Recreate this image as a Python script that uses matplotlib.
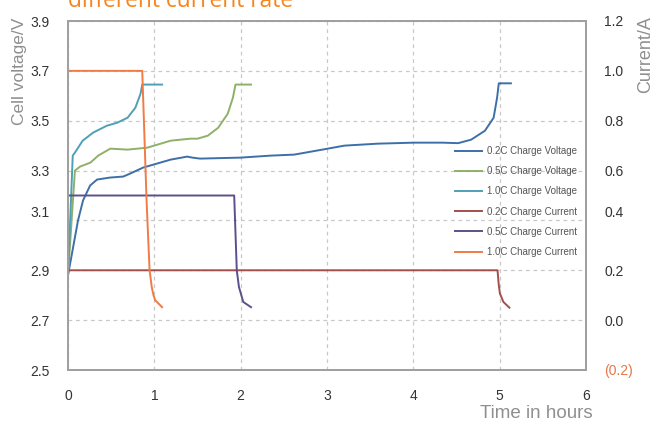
import numpy as np
import matplotlib.pyplot as plt
from matplotlib.transforms import ScaledTranslation

plt.rcParams['font.family'] = ['Liberation Sans', 'DejaVu Sans']

# voltage curves (hours, volts)
t_v02 = [0, 0.058, 0.116, 0.174, 0.256, 0.337, 0.488, 0.64, 0.72, 0.87, 1.07, 1.19, 1.38, 1.44,
         1.53, 2.0, 2.35, 2.62, 3.01, 3.2, 3.59, 4.01, 4.33, 4.52, 4.67, 4.83, 4.93, 4.97, 4.99, 5.13]
v_02 = [2.88, 2.99, 3.10, 3.18, 3.24, 3.264, 3.272, 3.276, 3.288, 3.312, 3.332, 3.344, 3.356, 3.352,
        3.348, 3.352, 3.36, 3.364, 3.388, 3.40, 3.408, 3.412, 3.412, 3.41, 3.424, 3.46, 3.512, 3.592, 3.65, 3.65]

t_v05 = [0, 0.08, 0.14, 0.26, 0.35, 0.49, 0.69, 0.92, 1.19, 1.42, 1.5, 1.62, 1.74, 1.85, 1.91, 1.94, 2.12]
v_05 = [2.88, 3.30, 3.316, 3.332, 3.36, 3.388, 3.384, 3.392, 3.42, 3.428, 3.428, 3.44, 3.472, 3.528, 3.592, 3.645, 3.645]

t_v10 = [0, 0.055, 0.08, 0.17, 0.29, 0.45, 0.57, 0.69, 0.78, 0.84, 0.86, 1.09]
v_10 = [2.88, 3.36, 3.372, 3.42, 3.452, 3.48, 3.492, 3.512, 3.552, 3.608, 3.645, 3.645]

# current curves (hours, amps)
t_i02 = [0, 4.975, 4.99, 5.003, 5.043, 5.113]
i_02 = [0.2, 0.2, 0.14, 0.107, 0.073, 0.05]
t_i05 = [0, 1.925, 1.94, 1.955, 1.98, 2.03, 2.12]
i_05 = [0.5, 0.5, 0.35, 0.2, 0.133, 0.073, 0.052]
t_i10 = [0, 0.86, 0.91, 0.945, 0.97, 0.99, 1.01, 1.09]
i_10 = [1.0, 1.0, 0.48, 0.2, 0.133, 0.1, 0.08, 0.052]

v_ticks = [2.5, 2.7, 2.9, 3.1, 3.3, 3.5, 3.7, 3.9]
v_labels = ['2.5', '2.7', '2.9', '3.1', '3.3', '3.5', '3.7', '3.9']
i_ticks = [-0.2, 0.0, 0.2, 0.4, 0.6, 0.8, 1.0, 1.2]
i_labels = ['(0.2)', '0.0', '0.2', '0.4', '0.6', '0.8', '1.0', '1.2']
x_ticks = [0, 1, 2, 3, 4, 5, 6]

c_v02 = '#3e6fa8'
c_v05 = '#8fb068'
c_v10 = '#4fa0b5'
c_i02 = '#a24f4c'
c_i05 = '#5d4f8a'
c_i10 = '#f07b45'
spine_c = '#a0a0a0'
txt_gray = '#8f8f8f'
tick_c = '#333333'

fig = plt.figure(figsize=(6.55, 4.21), dpi=100)
ax = fig.add_axes([68/655, 51/421, 518/655, 349/421])
ax2 = ax.twinx()

lw = 1.4
l1, = ax.plot(t_v02, v_02, color=c_v02, lw=lw, label='0.2C Charge Voltage')
l2, = ax.plot(t_v05, v_05, color=c_v05, lw=lw, label='0.5C Charge Voltage')
l3, = ax.plot(t_v10, v_10, color=c_v10, lw=lw, label='1.0C Charge Voltage')
l4, = ax2.plot(t_i02, i_02, color=c_i02, lw=lw, label='0.2C Charge Current')
l5, = ax2.plot(t_i05, i_05, color=c_i05, lw=lw, label='0.5C Charge Current')
l6, = ax2.plot(t_i10, i_10, color=c_i10, lw=lw, label='1.0C Charge Current')

ax.set_xlim(0, 6)
ax.set_ylim(2.5, 3.9)
ax2.set_ylim(-0.2, 1.2)

ax.set_xticks(x_ticks)
ax.set_yticks(v_ticks)
ax.set_yticklabels(v_labels)
ax2.set_yticks(i_ticks)
ax2.set_yticklabels(i_labels)

ax.grid(True, color='#c8c8c8', ls=(0, (3, 3)), lw=0.9)
ax.tick_params(length=0, labelsize=10, labelcolor=tick_c)
ax.tick_params(axis='x', pad=14)
ax.tick_params(axis='y', pad=13)
ax2.tick_params(length=0, labelsize=10, labelcolor=tick_c, pad=13)
ax2.get_yticklabels()[0].set_color('#e0784a')

# the 3.1 / 0.4 labels sit a little high in the original
off = ScaledTranslation(0, 9/100, fig.dpi_scale_trans)
for axis in (ax.yaxis, ax2.yaxis):
    tk = axis.get_major_ticks()[3]
    tk.label1.set_transform(tk.label1.get_transform() + off)
    tk.label2.set_transform(tk.label2.get_transform() + off)

for a in (ax, ax2):
    for s in a.spines.values():
        s.set_color(spine_c)
        s.set_linewidth(1.3)

fig.text(20/655, 1 - 71/421, 'Cell voltage/V', rotation=90, ha='center', va='center',
         color=txt_gray, fontsize=12.5)
fig.text(646/655, 1 - 55/421, 'Current/A', rotation=90, ha='center', va='center',
         color=txt_gray, fontsize=13)
fig.text(536/655, 1 - 413/421, 'Time in hours', ha='center', va='center',
         color=txt_gray, fontsize=13.5)
fig.text(68/655, 1 - 7/421, 'different current rate', ha='left', va='baseline',
         color='#f5851f', fontsize=16.4, family=['Open Sans', 'DejaVu Sans'])

ax2.legend(handles=[l1, l2, l3, l4, l5, l6], loc='upper left', frameon=False,
           bbox_to_anchor=(455/655, 1 - 146/421), bbox_transform=fig.transFigure,
           borderaxespad=0, borderpad=0, fontsize=7, handlelength=2.8,
           handletextpad=0.5, labelspacing=1.05, labelcolor='#555555')

fig.savefig('out.png', dpi=100)
